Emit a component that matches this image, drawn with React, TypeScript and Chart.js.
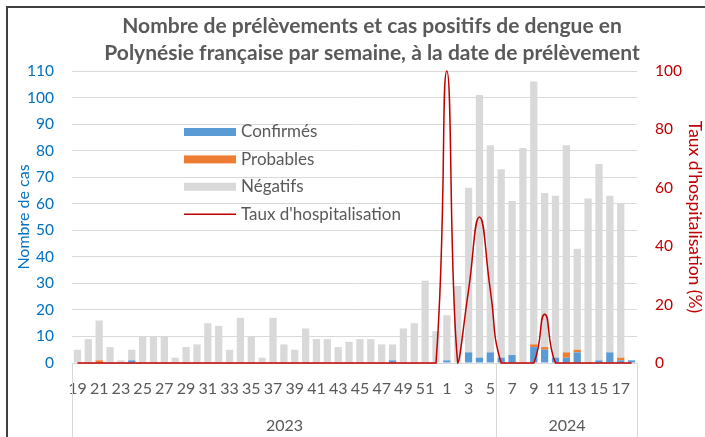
import React, { useEffect, useRef } from 'react';
import { Chart, registerables } from 'chart.js';

Chart.register(...registerables);

const TITLE_LINES = [
  'Nombre de prélèvements et cas positifs de dengue en',
  'Polynésie française par semaine, à la date de prélèvement',
];

const weeks = [
  '19', '20', '21', '22', '23', '24', '25', '26', '27', '28', '29', '30', '31', '32', '33', '34', '35',
  '36', '37', '38', '39', '40', '41', '42', '43', '44', '45', '46', '47', '48', '49', '50', '51', '52',
  '1', '2', '3', '4', '5', '6', '7', '8', '9', '10', '11', '12', '13', '14', '15', '16', '17', '18',
];

const years = ['2023', '2024'];
const yearGroupSizes = [39, 13];

const confirmes = [
  0, 0, 0, 0, 0, 1, 0, 0, 0, 0, 0, 0, 0, 0, 0, 0, 0,
  0, 0, 0, 0, 0, 0, 0, 0, 0, 0, 0, 0, 1, 0, 0, 0, 0,
  1, 0, 4, 2, 4, 2, 3, 0, 6, 5, 2, 2, 4, 0, 1, 4, 1, 1,
];

const probables = [
  0, 0, 1, 0, 0, 0, 0, 0, 0, 0, 0, 0, 0, 0, 0, 0, 0,
  0, 0, 0, 0, 0, 0, 0, 0, 0, 0, 0, 0, 0, 0, 0, 0, 0,
  0, 0, 0, 0, 0, 0, 0, 0, 1, 1, 0, 2, 1, 0, 0, 0, 1, 0,
];

const negatifs = [
  5, 9, 15, 6, 1, 4, 10, 10, 10, 2, 6, 7, 15, 14, 5, 17, 10,
  2, 17, 7, 5, 13, 9, 9, 6, 8, 9, 9, 7, 6, 13, 15, 31, 12,
  17, 29, 62, 99, 78, 71, 58, 81, 99, 58, 61, 78, 38, 62, 74, 59, 58, 0,
];

const tauxHospitalisation = [
  0, 0, 0, 0, 0, 0, 0, 0, 0, 0, 0, 0, 0, 0, 0, 0, 0,
  0, 0, 0, 0, 0, 0, 0, 0, 0, 0, 0, 0, 0, 0, 0, 0, 0,
  100, 0, 25, 50, 25, 0, 0, 0, 0, 16.7, 0, 0, 0, 0, 0, 0, 0, 0,
];

const leftTicks = { min: 0, max: 110, step: 10 };
const rightTicks = { min: 0, max: 100, step: 20 };

const C_BLUE = '#5B9BD5';
const C_ORANGE = '#ED7D31';
const C_GREY = '#D9D9D9';
const C_RED = '#C00000';
const C_TEXT = '#595959';
const C_AXIS_BLUE = '#0070C0';
const FONT = 'Lato';

const legendItems = [
  { label: 'Confirmés', color: C_BLUE, kind: 'box' },
  { label: 'Probables', color: C_ORANGE, kind: 'box' },
  { label: 'Négatifs', color: C_GREY, kind: 'box' },
  { label: "Taux d'hospitalisation", color: C_RED, kind: 'line' },
];

const overlayPlugin = {
  id: 'overlay',
  afterDraw(chart: any) {
    const ctx = chart.ctx as CanvasRenderingContext2D;
    const xs = chart.scales.x;
    const area = chart.chartArea;
    ctx.save();

    // Title
    ctx.font = `bold 21px ${FONT}`;
    ctx.fillStyle = C_TEXT;
    ctx.textAlign = 'center';
    ctx.textBaseline = 'alphabetic';
    TITLE_LINES.forEach((t, i) => ctx.fillText(t, 372, 33 + i * 27));

    // Year groups
    const half = (xs.getPixelForValue(1) - xs.getPixelForValue(0)) / 2;
    ctx.strokeStyle = C_GREY;
    ctx.lineWidth = 1;
    ctx.font = `16px ${FONT}`;
    ctx.fillStyle = C_TEXT;
    ctx.textBaseline = 'middle';
    let start = 0;
    yearGroupSizes.forEach((n, g) => {
      const x0 = Math.round(xs.getPixelForValue(start) - half) + 0.5;
      const x1 = Math.round(xs.getPixelForValue(start + n - 1) + half) + 0.5;
      ctx.beginPath();
      ctx.moveTo(x0, area.bottom);
      ctx.lineTo(x0, chart.height);
      ctx.moveTo(x1, area.bottom);
      ctx.lineTo(x1, chart.height);
      ctx.stroke();
      ctx.fillText(years[g], (x0 + x1) / 2, 426);
      start += n;
    });

    // Legend
    const lx = area.left + 112;
    const ly = area.top + 61;
    ctx.textAlign = 'left';
    ctx.font = `17px ${FONT}`;
    legendItems.forEach((it, i) => {
      const y = ly + i * 27.4;
      if (it.kind === 'box') {
        ctx.fillStyle = it.color;
        ctx.fillRect(lx, y - 4, 52, 8);
      } else {
        ctx.strokeStyle = it.color;
        ctx.lineWidth = 1.5;
        ctx.beginPath();
        ctx.moveTo(lx, y);
        ctx.lineTo(lx + 52, y);
        ctx.stroke();
      }
      ctx.fillStyle = C_TEXT;
      ctx.fillText(it.label, lx + 57, y);
    });

    ctx.restore();
  },
};

export default function App() {
  const canvasRef = useRef<HTMLCanvasElement | null>(null);

  useEffect(() => {
    document.body.style.margin = '0';
    const canvas = canvasRef.current;
    if (!canvas) return;
    const chart = new Chart(canvas, {
      type: 'bar',
      data: {
        labels: weeks,
        datasets: [
          {
            type: 'line',
            label: "Taux d'hospitalisation",
            data: tauxHospitalisation,
            yAxisID: 'y1',
            borderColor: C_RED,
            borderWidth: 1.5,
            pointRadius: 0,
            tension: 0.5,
            clip: false,
            order: 0,
          } as any,
          {
            label: 'Confirmés',
            data: confirmes,
            backgroundColor: C_BLUE,
            yAxisID: 'y',
            order: 1,
            categoryPercentage: 1,
            barPercentage: 0.67,
          },
          {
            label: 'Probables',
            data: probables,
            backgroundColor: C_ORANGE,
            yAxisID: 'y',
            order: 1,
            categoryPercentage: 1,
            barPercentage: 0.67,
          },
          {
            label: 'Négatifs',
            data: negatifs,
            backgroundColor: C_GREY,
            yAxisID: 'y',
            order: 1,
            categoryPercentage: 1,
            barPercentage: 0.67,
          },
        ],
      },
      options: {
        responsive: false,
        animation: false,
        devicePixelRatio: 1,
        layout: { padding: { top: 71, left: 0, right: 0, bottom: 0 } },
        plugins: {
          legend: { display: false },
          title: { display: false },
          tooltip: { enabled: false },
        },
        scales: {
          x: {
            stacked: true,
            grid: { display: false, drawTicks: false },
            border: { display: true, color: C_GREY },
            ticks: {
              autoSkip: false,
              maxRotation: 0,
              minRotation: 0,
              padding: 16,
              color: C_TEXT,
              font: { family: FONT, size: 16 },
              callback: (_v: any, i: number) => (i % 2 === 0 ? weeks[i] : ''),
            },
            afterFit: (s: any) => { s.height = 74; },
          },
          y: {
            stacked: true,
            position: 'left',
            min: leftTicks.min,
            max: leftTicks.max,
            grid: { color: C_GREY, drawTicks: false },
            border: { display: false },
            ticks: {
              stepSize: leftTicks.step,
              padding: 18,
              color: C_AXIS_BLUE,
              font: { family: FONT, size: 15.5 },
            },
            title: {
              display: true,
              text: 'Nombre de cas',
              color: C_AXIS_BLUE,
              font: { family: FONT, size: 16 },
              padding: { top: 14, bottom: 0 },
            },
            afterFit: (s: any) => { s.width = 72; },
          },
          y1: {
            position: 'right',
            min: rightTicks.min,
            max: rightTicks.max,
            grid: { display: false, drawTicks: false },
            border: { display: false },
            ticks: {
              stepSize: rightTicks.step,
              padding: 18,
              color: C_RED,
              font: { family: FONT, size: 15.5 },
            },
            title: {
              display: true,
              text: "Taux d'hospitalisation (%)",
              color: C_RED,
              font: { family: FONT, size: 17.5 },
              padding: { top: 0, bottom: 0 },
            },
            afterFit: (s: any) => { s.width = 68; },
          },
        },
      },
      plugins: [overlayPlugin],
    });
    return () => chart.destroy();
  }, []);

  return (
    <div style={{ position: 'relative', width: 705, height: 437, overflow: 'hidden', background: '#fff' }}>
      <canvas ref={canvasRef} width={705} height={437} style={{ display: 'block' }} />
      <div
        style={{
          position: 'absolute',
          left: 6,
          top: 6,
          width: 720,
          height: 450,
          borderTop: '2px solid #404040',
          borderLeft: '2px solid #404040',
          pointerEvents: 'none',
        }}
      />
    </div>
  );
}
